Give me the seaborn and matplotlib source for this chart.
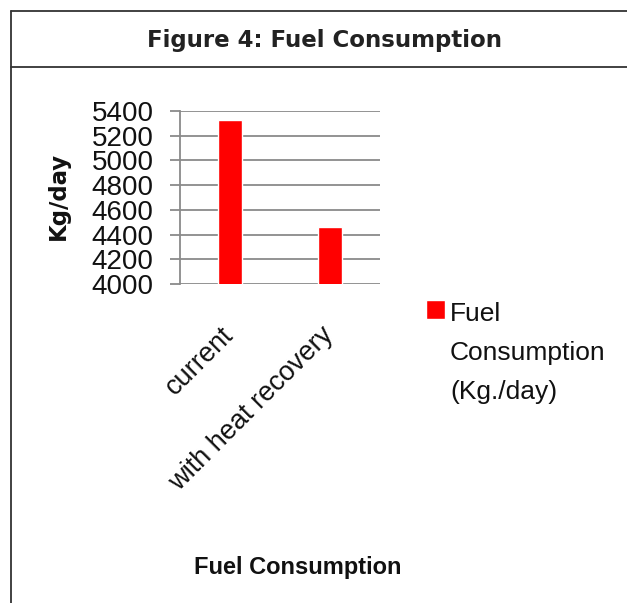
import matplotlib
matplotlib.use("Agg")
import matplotlib.pyplot as plt
import seaborn as sns
import pandas as pd
from matplotlib.lines import Line2D
from matplotlib.patches import Rectangle
from matplotlib.legend_handler import HandlerPatch

# data
scenarios = ["current", "with heat recovery"]
fuel_kg_day = [5325, 4465]
series_name = "Fuel\nConsumption\n(Kg./day)"
y_ticks = [4000, 4200, 4400, 4600, 4800, 5000, 5200, 5400]

df = pd.DataFrame({"scenario": scenarios, "value": fuel_kg_day, "series": series_name})

sns.set_style("white")
plt.rcParams["font.family"] = ["Liberation Sans", "DejaVu Sans"]
plt.rcParams["text.color"] = "#111111"
plt.rcParams["xtick.color"] = "#111111"
plt.rcParams["ytick.color"] = "#111111"
plt.rcParams["axes.labelcolor"] = "#111111"

fig = plt.figure(figsize=(6.27, 6.03), dpi=100)
ax = fig.add_axes([0.287, 0.529, 0.319, 0.287])

sns.barplot(data=df, x="scenario", y="value", hue="series", palette=["#ff0000"],
            width=0.24, saturation=1, ax=ax)

grid_col = "#8a8a8a"
ax.set_ylim(4000, 5400)
ax.set_yticks(y_ticks)
ax.yaxis.grid(True, color=grid_col, linewidth=1.3)
ax.set_axisbelow(True)
for s in ["top", "right", "bottom"]:
    ax.spines[s].set_visible(False)
ax.spines["left"].set_color(grid_col)
ax.spines["left"].set_linewidth(1.3)
ax.tick_params(axis="y", direction="out", length=7, width=1.3, color=grid_col,
               pad=12, labelsize=20, left=True, labelcolor="#111111")
ax.tick_params(axis="x", length=0, pad=34, labelsize=19.5, labelcolor="#111111")
for lab in ax.get_xticklabels():
    lab.set_rotation(45)
    lab.set_ha("right")
    lab.set_va("center")
    lab.set_rotation_mode("anchor")

ax.set_ylabel("Kg/day", fontsize=16.5, fontweight="bold", family="DejaVu Sans")
ax.set_xlabel("")
ax.yaxis.set_label_coords(-0.55, 0.51)
fig.text(0.475, 0.059, "Fuel Consumption", fontsize=17, fontweight="bold",
         ha="center", va="center")


# put legend swatch level with the first line of the label
def top_patch(legend, orig_handle, xdescent, ydescent, width, height, fontsize):
    size = fontsize * 0.72
    return Rectangle((-xdescent, -ydescent + fontsize * 1.64), size, size)


handles, labels = ax.get_legend_handles_labels()
leg = ax.legend(handles, labels, loc="upper left", bbox_to_anchor=(1.11, 0.035),
                frameon=False, fontsize=19, handlelength=0.72, handletextpad=0.2,
                handler_map={handles[0]: HandlerPatch(patch_func=top_patch)})
for t in leg.get_texts():
    t.set_linespacing(1.8)

# figure box and title strip
frame_col = "#333333"
fig.add_artist(Line2D([0.018, 0.018], [0.0, 0.982], color=frame_col, lw=1.3))
fig.add_artist(Line2D([0.018, 1.0], [0.982, 0.982], color=frame_col, lw=1.3))
fig.add_artist(Line2D([0.018, 1.0], [0.889, 0.889], color=frame_col, lw=1.3))
fig.text(0.517, 0.933, "Figure 4: Fuel Consumption", fontsize=16.5, fontweight="bold",
         family="DejaVu Sans", ha="center", va="center", color="#222222")

fig.savefig("out.png", dpi=100)
